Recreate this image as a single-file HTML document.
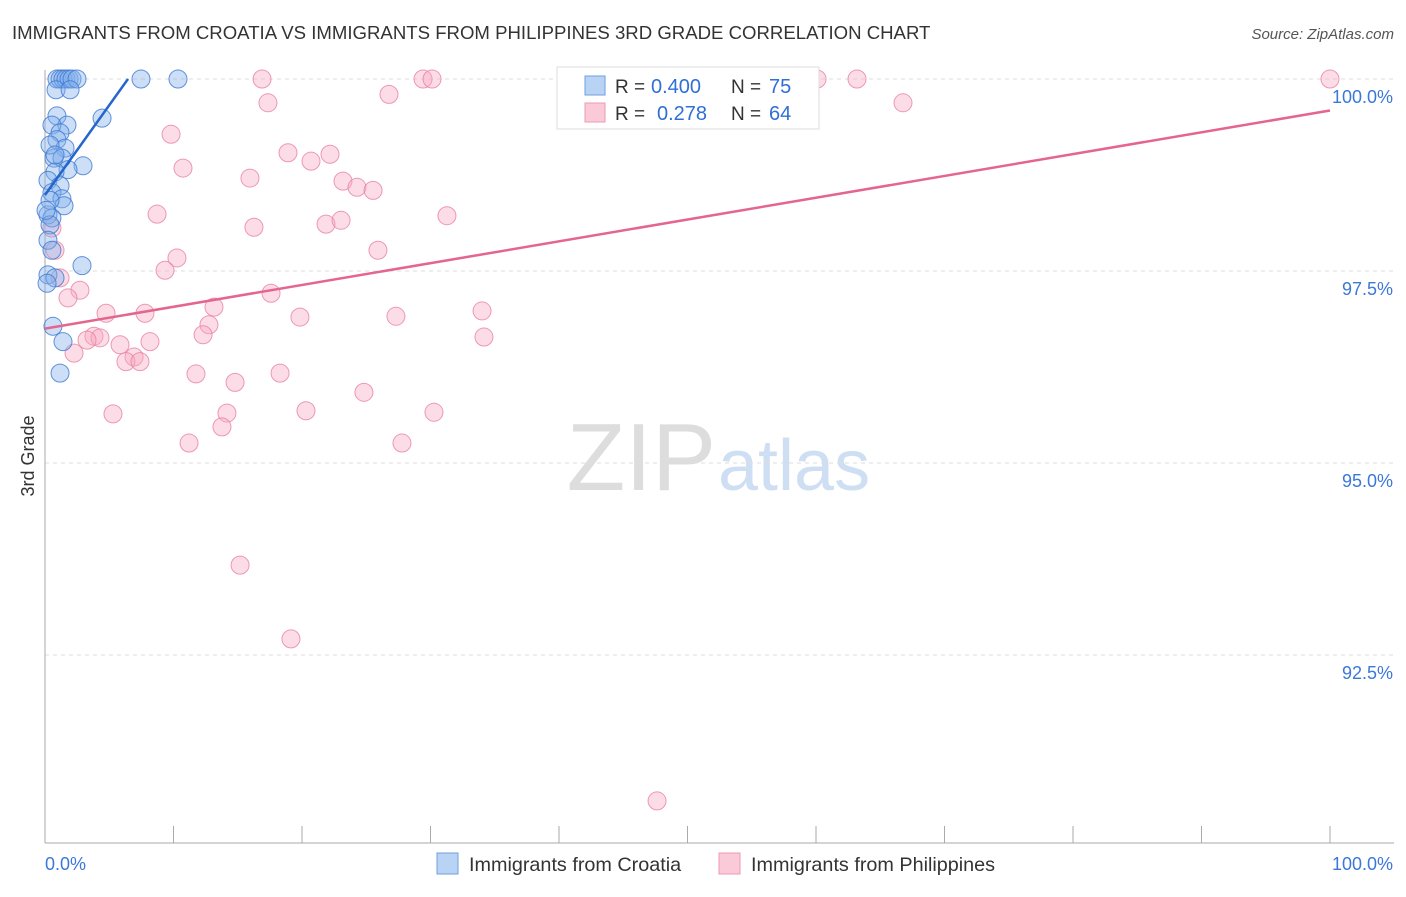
<!DOCTYPE html>
<html><head><meta charset="utf-8"><style>
body{margin:0;background:#fff;font-family:"Liberation Sans",sans-serif;}
svg text{font-family:"Liberation Sans",sans-serif;}
</style></head><body>
<svg id="chart" width="1406" height="892" xmlns="http://www.w3.org/2000/svg">
<text x="12" y="39" font-size="18.6" fill="#333">IMMIGRANTS FROM CROATIA VS IMMIGRANTS FROM PHILIPPINES 3RD GRADE CORRELATION CHART</text>
<text x="1394" y="39" font-size="15" fill="#555" font-style="italic" text-anchor="end">Source: ZipAtlas.com</text>
<text x="716" y="490" font-size="96" fill="#ddd" text-anchor="end" font-family="Liberation Serif">ZIP</text>
<text x="718" y="490" font-size="72" fill="#cfdff3">atlas</text>
<text transform="translate(34,456) rotate(-90)" font-size="18" fill="#333" text-anchor="middle">3rd Grade</text>
<g id="grid"></g><g id="axes"></g><g id="pts"></g><g id="lines"></g>
<g>
<rect x="557" y="67" width="262" height="62" fill="#fff" stroke="#ddd"/>
<rect x="585" y="76" width="20" height="19" fill="#b9d3f5" stroke="#6f9fdf"/>
<rect x="585" y="103" width="20" height="19" fill="#fbcad8" stroke="#ee9ab2"/>
<text x="615" y="93" font-size="19" fill="#333">R =</text>
<text x="651" y="93" font-size="20" fill="#2f6fd6">0.400</text>
<text x="731" y="93" font-size="19" fill="#333">N =</text>
<text x="769" y="93" font-size="20" fill="#2f6fd6">75</text>
<text x="615" y="120" font-size="19" fill="#333">R =</text>
<text x="657" y="120" font-size="20" fill="#2f6fd6">0.278</text>
<text x="731" y="120" font-size="19" fill="#333">N =</text>
<text x="769" y="120" font-size="20" fill="#2f6fd6">64</text>
</g>
<g>
<rect x="437" y="853" width="21" height="21" fill="#b9d3f5" stroke="#6f9fdf"/>
<text x="469" y="871" font-size="19.8" fill="#333">Immigrants from Croatia</text>
<rect x="719" y="853" width="21" height="21" fill="#fbcad8" stroke="#ee9ab2"/>
<text x="751" y="871" font-size="19.8" fill="#333">Immigrants from Philippines</text>
</g>
</svg>
<script>
const xTicks=[0,10,20,30,40,50,60,70,80,90,100];
const yTicks=[100,97.5,95,92.5];
const yTickLabels=["100.0%","97.5%","95.0%","92.5%"];
const blueX=[0.93,1.17,1.40,1.63,1.87,2.10,2.49,7.47,10.35,0.86,1.95,4.44,0.93,1.71,0.54,1.17,0.93,1.56,0.70,1.32,2.96,1.79,0.78,0.23,1.17,0.54,1.32,1.48,0.23,0.54,0.39,0.23,0.54,2.88,0.23,0.78,0.16,0.62,1.40,1.17,0.39,0.78,0.39,0.08];
const blueY=[100,100,100,100,100,100,100,100,100,99.86,99.86,99.49,99.52,99.40,99.40,99.30,99.21,99.10,98.97,98.97,98.87,98.82,98.79,98.68,98.61,98.52,98.44,98.35,98.23,98.19,98.10,97.90,97.77,97.57,97.45,97.41,97.34,96.78,96.58,96.17,99.14,99.01,98.42,98.29];
const pinkX=[16.89,29.42,30.12,60.08,63.19,100,17.35,66.77,26.77,9.81,10.74,18.91,20.70,22.18,15.95,23.19,24.28,25.53,8.72,16.26,21.87,23.04,31.28,25.91,10.27,9.34,0.78,0.54,2.72,1.79,17.59,4.75,7.78,13.15,19.84,27.31,34.01,12.76,12.30,34.16,3.81,4.28,5.84,8.17,2.26,6.93,6.30,7.39,11.75,18.29,14.79,24.82,5.29,14.16,20.31,30.27,13.77,11.21,27.78,15.18,19.14,47.63,1.17,3.27];
const pinkY=[100,100,100,100,100,100,99.69,99.69,99.80,99.28,98.84,99.04,98.93,99.02,98.71,98.67,98.59,98.55,98.24,98.07,98.11,98.16,98.22,97.77,97.67,97.51,97.77,98.06,97.25,97.15,97.21,96.95,96.95,97.03,96.90,96.91,96.98,96.80,96.67,96.64,96.65,96.63,96.54,96.58,96.43,96.38,96.32,96.32,96.16,96.17,96.05,95.92,95.64,95.65,95.68,95.66,95.47,95.26,95.26,93.67,92.71,90.60,97.41,96.60];
const blueLine=[[0,98.49],[6.46,100]];
const pinkLine=[[0,96.75],[100,99.59]];
const NS="http://www.w3.org/2000/svg";
const sx=v=>45+v*12.85;
const sy=v=>79+(100-v)*76.8;
function mk(tag,attrs,parent){const e=document.createElementNS(NS,tag);for(const k in attrs)e.setAttribute(k,attrs[k]);document.getElementById(parent).appendChild(e);return e;}
yTicks.forEach((t,i)=>{
 const g=mk('line',{x1:45,x2:1394,y1:sy(t),y2:sy(t),stroke:'#ddd','stroke-dasharray':'4,4'},'grid');
 
 
 const l=mk('text',{x:1393,y:sy(t)+24,'font-size':18,fill:'#3b78d8','text-anchor':'end'},'axes');l.textContent=yTickLabels[i];
 
 
});
const ax=mk('line',{x1:45,x2:45,y1:70,y2:843,stroke:'#aaa'},'axes');


const bx=mk('line',{x1:45,x2:1394,y1:843,y2:843,stroke:'#aaa'},'axes');


xTicks.forEach(t=>{const k=mk('line',{x1:sx(t),x2:sx(t),y1:826,y2:843,stroke:'#aaa'},'axes');
 
 });
const x0=mk('text',{x:45,y:870,'font-size':18,fill:'#3b78d8'},'axes');x0.textContent='0.0%';


const x1=mk('text',{x:1393,y:870,'font-size':18,fill:'#3b78d8','text-anchor':'end'},'axes');x1.textContent='100.0%';


pinkX.forEach((v,i)=>{const c=mk('circle',{cx:sx(v),cy:sy(pinkY[i]),r:9,fill:'rgba(248,170,195,0.4)',stroke:'rgba(232,130,160,0.8)'},'pts');
 
 });
blueX.forEach((v,i)=>{const c=mk('circle',{cx:sx(v),cy:sy(blueY[i]),r:9,fill:'rgba(130,175,235,0.4)',stroke:'rgba(60,120,210,0.8)'},'pts');
 
 });
const pl=mk('line',{x1:sx(pinkLine[0][0]),y1:sy(pinkLine[0][1]),x2:sx(pinkLine[1][0]),y2:sy(pinkLine[1][1]),stroke:'#e4658e','stroke-width':2.5},'lines');


const bl=mk('line',{x1:sx(blueLine[0][0]),y1:sy(blueLine[0][1]),x2:sx(blueLine[1][0]),y2:sy(blueLine[1][1]),stroke:'#2466cc','stroke-width':2.5},'lines');


</script>
</body></html>
